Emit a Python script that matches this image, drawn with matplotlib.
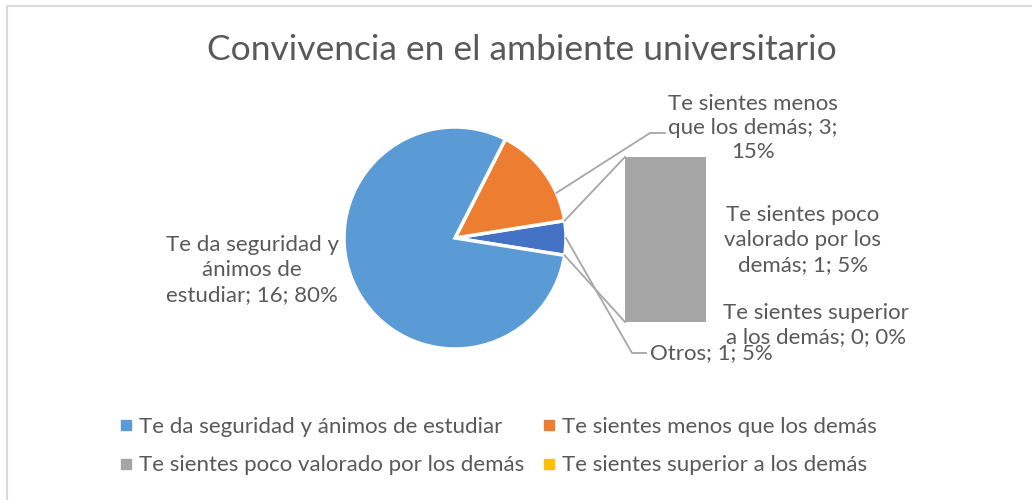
import numpy as np
import matplotlib
matplotlib.use("Agg")
import matplotlib.pyplot as plt
from matplotlib.lines import Line2D

plt.rcParams['font.family'] = ['Lato', 'DejaVu Sans']

# data
title = "Convivencia en el ambiente universitario"
pie_names = ["Otros", "Te sientes menos que los demás", "Te da seguridad y ánimos de estudiar"]
pie_values = [1, 3, 16]
pie_colors = ["#4472C4", "#ED7D31", "#5B9BD5"]
bar_names = ["Te sientes poco valorado por los demás", "Te sientes superior a los demás"]
bar_values = [1, 0]
bar_colors = ["#A5A5A5", "#FFC000"]
# legend read row by row (2 columns)
legend_names = ["Te da seguridad y ánimos de estudiar", "Te sientes menos que los demás",
                "Te sientes poco valorado por los demás", "Te sientes superior a los demás"]
legend_colors = ["#5B9BD5", "#ED7D31", "#A5A5A5", "#FFC000"]

TXT = "#595959"
LINE = "#A6A6A6"
W, H = 1032, 500
fig = plt.figure(figsize=(W / 100, H / 100), dpi=100)


def box(x0, y0, x1, y1):
    return [x0 / W, 1 - y1 / H, (x1 - x0) / W, (y1 - y0) / H]


# pie
cx, cy, r = 455, 238, 111
total = sum(pie_values)
start = -180 * pie_values[0] / total
axp = fig.add_axes(box(cx - r, cy - r, cx + r, cy + r))
axp.pie(pie_values, colors=pie_colors, startangle=start, counterclock=True,
        wedgeprops=dict(edgecolor="white", linewidth=2.5))
axp.set_xlim(-1, 1)
axp.set_ylim(-1, 1)

# bar of pie
bx0, by0, bx1, by1 = 625, 157, 706, 322
axb = fig.add_axes(box(bx0, by0, bx1, by1))
bottom = 0
for v, c in zip(bar_values, bar_colors):
    axb.bar(0, v, width=1, bottom=bottom, color=c)
    bottom += v
axb.set_xlim(-0.5, 0.5)
axb.set_ylim(0, sum(bar_values))
axb.axis("off")

# overlay in pixel coords
ov = fig.add_axes([0, 0, 1, 1])
ov.set_xlim(0, W)
ov.set_ylim(H, 0)
ov.axis("off")
ov.patch.set_alpha(0)

# frame
ov.plot([6.5, 6.5, W], [H, 5.5, 5.5], color="#D9D9D9", lw=1.5)


def edge(angle_deg):
    a = np.radians(angle_deg)
    return cx + r * np.cos(a), cy - r * np.sin(a)


a_half = 180 * pie_values[0] / total
p1 = edge(a_half)
p2 = edge(-a_half)
ov.plot([p1[0], bx0], [p1[1], by0], color=LINE, lw=1.3)
ov.plot([p2[0], bx0], [p2[1], by1], color=LINE, lw=1.3)

# leader lines
a_or = a_half + 180 * pie_values[1] / total
po = edge(a_or - 12)
ov.plot([po[0], 650, 665], [po[1], 133, 133], color=LINE, lw=1.3)
pt = edge(0)
ov.plot([pt[0], 632, 646], [pt[1], 353, 353], color=LINE, lw=1.3)

fs = 16
ov.text(W / 2 + 6, 50, title, ha="center", va="center", fontsize=25.5, color=TXT)
ov.text(252, 270, "Te da seguridad y\nánimos de\nestudiar; 16; 80%", ha="center", va="center",
        fontsize=fs, color=TXT, linespacing=1.3)
ov.text(753, 128, "Te sientes menos\nque los demás; 3;\n15%", ha="center", va="center",
        fontsize=fs, color=TXT, linespacing=1.25)
ov.text(803, 240, "Te sientes poco\nvalorado por los\ndemás; 1; 5%", ha="center", va="center",
        fontsize=fs, color=TXT, linespacing=1.3)
ov.text(816, 325, "Te sientes superior\na los demás; 0; 0%", ha="center", va="center",
        fontsize=fs, color=TXT, linespacing=1.3)
ov.text(650, 353, "Otros; 1; 5%", ha="left", va="center", fontsize=fs, color=TXT)

# matplotlib fills legend columns first, so reorder to keep the row layout
order = [0, 2, 1, 3]
handles = [Line2D([], [], marker="s", color=legend_colors[i], ls="", markersize=7) for i in order]
labels = [legend_names[i] for i in order]
fig.legend(handles, labels, loc="center", bbox_to_anchor=(498 / W, 1 - 446 / H),
           ncol=2, frameon=False, fontsize=fs, labelcolor=TXT, handlelength=0.6,
           handletextpad=0.3, columnspacing=0.8, labelspacing=0.85)

fig.savefig("out.png", dpi=100)
